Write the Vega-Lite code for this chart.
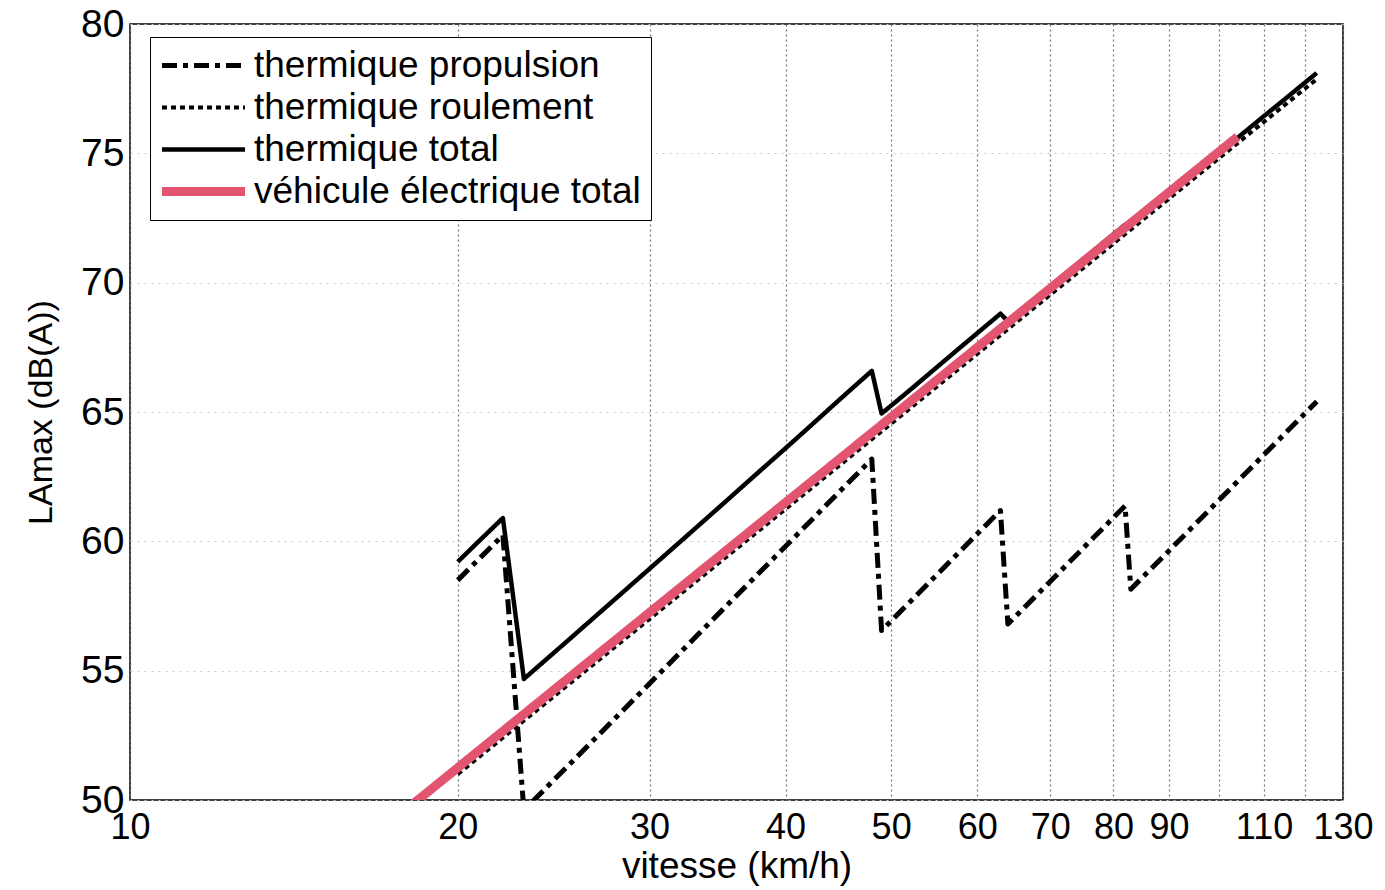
{
  "$schema": "https://vega.github.io/schema/vega-lite/v6.json",
  "width": 1213,
  "height": 776,
  "autosize": {"type": "none"},
  "padding": {"left": 130, "top": 24, "right": 42, "bottom": 90},
  "background": "white",
  "config": {
    "view": {"stroke": "black", "strokeWidth": 1.5},
    "font": "Liberation Sans"
  },
  "data": {
    "values": [
      {"v": 20, "L": 58.5, "serie": "thermique propulsion"},
      {"v": 21, "L": 59.39, "serie": "thermique propulsion"},
      {"v": 22, "L": 60.24, "serie": "thermique propulsion"},
      {"v": 23, "L": 49.6, "serie": "thermique propulsion"},
      {"v": 24, "L": 50.39, "serie": "thermique propulsion"},
      {"v": 25, "L": 51.14, "serie": "thermique propulsion"},
      {"v": 30, "L": 54.5, "serie": "thermique propulsion"},
      {"v": 35, "L": 57.35, "serie": "thermique propulsion"},
      {"v": 40, "L": 59.81, "serie": "thermique propulsion"},
      {"v": 45, "L": 61.99, "serie": "thermique propulsion"},
      {"v": 48, "L": 63.18, "serie": "thermique propulsion"},
      {"v": 49, "L": 56.55, "serie": "thermique propulsion"},
      {"v": 55, "L": 58.68, "serie": "thermique propulsion"},
      {"v": 60, "L": 60.29, "serie": "thermique propulsion"},
      {"v": 63, "L": 61.19, "serie": "thermique propulsion"},
      {"v": 64, "L": 56.8, "serie": "thermique propulsion"},
      {"v": 70, "L": 58.45, "serie": "thermique propulsion"},
      {"v": 76, "L": 59.97, "serie": "thermique propulsion"},
      {"v": 82, "L": 61.37, "serie": "thermique propulsion"},
      {"v": 83, "L": 58.15, "serie": "thermique propulsion"},
      {"v": 90, "L": 59.64, "serie": "thermique propulsion"},
      {"v": 100, "L": 61.59, "serie": "thermique propulsion"},
      {"v": 110, "L": 63.35, "serie": "thermique propulsion"},
      {"v": 123, "L": 65.41, "serie": "thermique propulsion"},

      {"v": 20, "L": 51.0, "serie": "thermique roulement"},
      {"v": 30, "L": 57.0, "serie": "thermique roulement"},
      {"v": 40, "L": 61.25, "serie": "thermique roulement"},
      {"v": 50, "L": 64.55, "serie": "thermique roulement"},
      {"v": 60, "L": 67.25, "serie": "thermique roulement"},
      {"v": 80, "L": 71.51, "serie": "thermique roulement"},
      {"v": 100, "L": 74.81, "serie": "thermique roulement"},
      {"v": 123, "L": 77.87, "serie": "thermique roulement"},

      {"v": 20, "L": 59.21, "serie": "thermique total"},
      {"v": 21, "L": 60.08, "serie": "thermique total"},
      {"v": 22, "L": 60.9, "serie": "thermique total"},
      {"v": 23, "L": 54.68, "serie": "thermique total"},
      {"v": 24, "L": 55.36, "serie": "thermique total"},
      {"v": 25, "L": 56.01, "serie": "thermique total"},
      {"v": 28, "L": 57.83, "serie": "thermique total"},
      {"v": 30, "L": 58.94, "serie": "thermique total"},
      {"v": 32, "L": 59.98, "serie": "thermique total"},
      {"v": 35, "L": 61.43, "serie": "thermique total"},
      {"v": 38, "L": 62.77, "serie": "thermique total"},
      {"v": 40, "L": 63.6, "serie": "thermique total"},
      {"v": 42, "L": 64.4, "serie": "thermique total"},
      {"v": 45, "L": 65.54, "serie": "thermique total"},
      {"v": 48, "L": 66.59, "serie": "thermique total"},
      {"v": 49, "L": 64.94, "serie": "thermique total"},
      {"v": 52, "L": 65.84, "serie": "thermique total"},
      {"v": 55, "L": 66.71, "serie": "thermique total"},
      {"v": 58, "L": 67.53, "serie": "thermique total"},
      {"v": 60, "L": 68.05, "serie": "thermique total"},
      {"v": 63, "L": 68.8, "serie": "thermique total"},
      {"v": 64, "L": 68.51, "serie": "thermique total"},
      {"v": 67, "L": 69.2, "serie": "thermique total"},
      {"v": 70, "L": 69.86, "serie": "thermique total"},
      {"v": 73, "L": 70.49, "serie": "thermique total"},
      {"v": 76, "L": 71.1, "serie": "thermique total"},
      {"v": 79, "L": 71.68, "serie": "thermique total"},
      {"v": 82, "L": 72.24, "serie": "thermique total"},
      {"v": 83, "L": 72.22, "serie": "thermique total"},
      {"v": 86, "L": 72.76, "serie": "thermique total"},
      {"v": 90, "L": 73.44, "serie": "thermique total"},
      {"v": 95, "L": 74.24, "serie": "thermique total"},
      {"v": 100, "L": 75.01, "serie": "thermique total"},
      {"v": 105, "L": 75.74, "serie": "thermique total"},
      {"v": 110, "L": 76.44, "serie": "thermique total"},
      {"v": 115, "L": 77.1, "serie": "thermique total"},
      {"v": 120, "L": 77.74, "serie": "thermique total"},
      {"v": 123, "L": 78.11, "serie": "thermique total"},

      {"v": 18, "L": 49.69, "serie": "véhicule électrique total"},
      {"v": 30, "L": 57.25, "serie": "véhicule électrique total"},
      {"v": 50, "L": 64.8, "serie": "véhicule électrique total"},
      {"v": 80, "L": 71.76, "serie": "véhicule électrique total"},
      {"v": 104, "L": 75.64, "serie": "véhicule électrique total"}
    ]
  },
  "mark": {"type": "line", "clip": true, "strokeCap": "butt", "strokeJoin": "round"},
  "encoding": {
    "x": {
      "field": "v",
      "type": "quantitative",
      "scale": {"type": "log", "domain": [10, 130], "nice": false},
      "axis": {
        "title": "vitesse (km/h)",
        "values": [10, 20, 30, 40, 50, 60, 70, 80, 90, 100, 110, 120, 130],
        "format": "d",
        "labelExpr": "datum.value == 100 || datum.value == 120 ? '' : datum.label",
        "labelFontSize": 36,
        "labelColor": "black",
        "labelPadding": 10,
        "labelFlush": false,
        "labelOverlap": false,
        "ticks": false,
        "domain": false,
        "grid": true,
        "gridColor": "#6f7480",
        "gridDash": [2, 3],
        "gridWidth": 1.2,
        "titleFontSize": 37,
        "titleFontWeight": "normal",
        "titleColor": "black",
        "titlePadding": 3
      }
    },
    "y": {
      "field": "L",
      "type": "quantitative",
      "scale": {"domain": [50, 80], "nice": false, "zero": false},
      "axis": {
        "title": "LAmax (dB(A))",
        "values": [50, 55, 60, 65, 70, 75, 80],
        "labelFontSize": 39,
        "labelColor": "black",
        "labelPadding": 6,
        "ticks": false,
        "domain": false,
        "grid": true,
        "gridColor": "#c8c8c8",
        "gridDash": [2, 5],
        "gridWidth": 1,
        "titleFontSize": 34,
        "titleFontWeight": "normal",
        "titleColor": "black",
        "titlePadding": 22
      }
    },
    "color": {
      "field": "serie",
      "type": "nominal",
      "scale": {
        "domain": ["thermique propulsion", "thermique roulement", "thermique total", "véhicule électrique total"],
        "range": ["black", "black", "black", "#e2546f"]
      },
      "legend": {
        "title": null,
        "orient": "none",
        "legendX": 20,
        "legendY": 13,
        "symbolType": "M-4.15,0H4.15",
        "symbolSize": 400,
        "symbolOffset": 25,
        "labelOffset": 32,
        "labelFontSize": 37,
        "labelFont": "Liberation Sans",
        "labelColor": "black",
        "labelLimit": 0,
        "padding": 10,
        "rowPadding": 4,
        "strokeColor": "black",
        "fillColor": "white"
      }
    },
    "strokeDash": {
      "field": "serie",
      "type": "nominal",
      "scale": {
        "domain": ["thermique propulsion", "thermique roulement", "thermique total", "véhicule électrique total"],
        "range": [[15, 6, 5, 6], [5, 4], [1, 0], [1, 0]]
      }
    },
    "strokeWidth": {
      "field": "serie",
      "type": "nominal",
      "scale": {
        "type": "ordinal",
        "domain": ["thermique propulsion", "thermique roulement", "thermique total", "véhicule électrique total"],
        "range": [5, 4, 4.5, 9]
      }
    }
  }
}
